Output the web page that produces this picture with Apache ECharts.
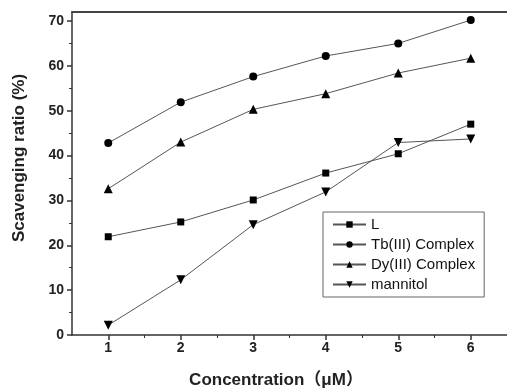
<!DOCTYPE html>
<html>
<head>
<meta charset="utf-8">
<script src="https://cdn.jsdelivr.net/npm/echarts@6/dist/echarts.min.js"></script>
<style>html,body{margin:0;padding:0;background:#fff;}#c{width:507px;height:391px;}</style>
</head>
<body>
<div id="c"></div>
<script>
var concentrations = [1, 2, 3, 4, 5, 6];
var seriesNames = ['L', 'Tb(III) Complex', 'Dy(III) Complex', 'mannitol'];
var valuesL = [21.9, 25.2, 30.1, 36.1, 40.4, 47.0];
var valuesTb = [42.8, 51.9, 57.6, 62.2, 65.0, 70.2];
var valuesDy = [32.6, 43.0, 50.3, 53.8, 58.4, 61.7];
var valuesMannitol = [2.2, 12.3, 24.6, 31.9, 42.9, 43.7];
var xTickLabels = [1, 2, 3, 4, 5, 6];
var xMinorTicks = [1.5, 2.5, 3.5, 4.5, 5.5, 6.5];
var yTickLabels = [0, 10, 20, 30, 40, 50, 60, 70];
var yMinorTicks = [5, 15, 25, 35, 45, 55, 65];

function pairs(vals) {
  return concentrations.map(function (x, i) { return [x, vals[i]]; });
}

var chart = echarts.init(document.getElementById('c'), null, {renderer: 'canvas'});
var axisColor = '#333';
var labelFont = {fontFamily: 'Liberation Sans', fontWeight: 'bold', fontSize: 14, color: '#222'};

function mkSeries(name, vals, symbol, size, rotate) {
  return {
    name: name, type: 'line', xAxisIndex: 0, yAxisIndex: 0,
    data: pairs(vals), symbol: symbol, symbolSize: size, symbolRotate: rotate || 0,
    showSymbol: true, animation: false,
    lineStyle: {color: '#555', width: 1},
    itemStyle: {color: '#000', borderWidth: 0}
  };
}

chart.setOption({
  animation: false,
  grid: {left: 72, right: -6, top: 12, bottom: 56, containLabel: false},
  xAxis: [
    {type: 'value', min: 0.5, max: 6.5, position: 'bottom',
     axisLine: {show: true, onZero: false, lineStyle: {color: axisColor, width: 1.5}},
     axisTick: {show: true, inside: false, length: 5, customValues: xTickLabels, lineStyle: {color: axisColor, width: 1.5}},
     axisLabel: Object.assign({show: true, margin: 6, customValues: xTickLabels}, labelFont),
     splitLine: {show: false}},
    {type: 'value', min: 0.5, max: 6.5, position: 'bottom',
     axisLine: {show: false},
     axisTick: {show: true, inside: false, length: 3, customValues: xMinorTicks, lineStyle: {color: axisColor, width: 1}},
     axisLabel: {show: false}, splitLine: {show: false}},
    {type: 'value', min: 0.5, max: 6.5, position: 'top',
     axisLine: {show: true, onZero: false, lineStyle: {color: '#444', width: 2}},
     axisTick: {show: false}, axisLabel: {show: false}, splitLine: {show: false}}
  ],
  yAxis: [
    {type: 'value', min: 0, max: 72, position: 'left',
     axisLine: {show: true, onZero: false, lineStyle: {color: axisColor, width: 1.5}},
     axisTick: {show: true, inside: false, length: 5, customValues: yTickLabels, lineStyle: {color: axisColor, width: 1.5}},
     axisLabel: Object.assign({show: true, margin: 8, customValues: yTickLabels}, labelFont),
     splitLine: {show: false}},
    {type: 'value', min: 0, max: 72, position: 'left',
     axisLine: {show: false},
     axisTick: {show: true, inside: false, length: 3, customValues: yMinorTicks, lineStyle: {color: axisColor, width: 1}},
     axisLabel: {show: false}, splitLine: {show: false}}
  ],
  legend: {
    orient: 'vertical', left: 323, top: 212,
    data: seriesNames,
    padding: [5, 9, 5, 9], itemGap: 5, itemWidth: 33, itemHeight: 8,
    borderColor: '#666', borderWidth: 1, backgroundColor: '#fff',
    textStyle: {fontFamily: 'Liberation Sans', fontSize: 15, color: '#111'}
  },
  graphic: [
    {type: 'text', x: 276, y: 380, style: {text: 'Concentration（μM）', font: 'bold 17px "Liberation Sans", "Noto Sans CJK SC"', fill: '#222', align: 'center', verticalAlign: 'middle'}},
    {type: 'text', rotation: Math.PI / 2, x: 19, y: 158, style: {text: 'Scavenging ratio (%)', font: 'bold 17px "Liberation Sans"', fill: '#222', align: 'center', verticalAlign: 'middle'}}
  ],
  series: [
    mkSeries(seriesNames[0], valuesL, 'rect', 7),
    mkSeries(seriesNames[1], valuesTb, 'circle', 8),
    mkSeries(seriesNames[2], valuesDy, 'triangle', 9),
    mkSeries(seriesNames[3], valuesMannitol, 'triangle', 9, 180)
  ]
});
</script>
</body>
</html>
